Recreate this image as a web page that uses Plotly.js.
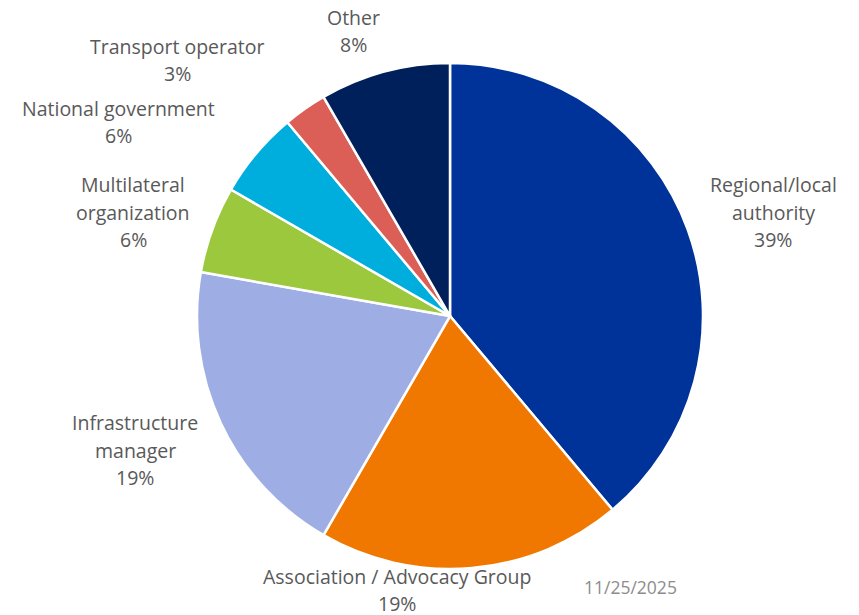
<!DOCTYPE html>
<html>
<head>
<meta charset="utf-8">
<script src="https://cdn.plot.ly/plotly-3.0.1.min.js"></script>
<style>html,body{margin:0;padding:0;background:#fff;}#chart{width:859px;height:615px;}</style>
</head>
<body>
<div id="chart"></div>
<script>
// Data (counts; shares shown rounded)
var categories = ["Regional/local authority", "Association / Advocacy Group", "Infrastructure manager", "Multilateral organization", "National government", "Transport operator", "Other"];
var labelLines = [["Regional/local", "authority"], ["Association / Advocacy Group"], ["Infrastructure", "manager"], ["Multilateral", "organization"], ["National government"], ["Transport operator"], ["Other"]];
var values = [14, 7, 7, 2, 2, 1, 3];
var colors = ["#003399", "#F07800", "#9EAEE5", "#9BC83C", "#00AEDD", "#DB5F57", "#00205B"];
var dateLabel = "11/25/2025";

var W = 859, H = 615;
// label block centres (pixels) for the outside labels
var labelPos = [[773, 212], [397, 590], [135, 450], [133, 212], [119, 122], [177, 60], [353, 31]];
var lineGap = 27;

var total = values.reduce(function(a, b){ return a + b; }, 0);
var annotations = [];
categories.forEach(function(c, i){
  var lines = labelLines[i].concat([Math.round(values[i] / total * 100) + "%"]);
  var n = lines.length;
  lines.forEach(function(t, j){
    var py = labelPos[i][1] + (j - (n - 1) / 2) * lineGap;
    annotations.push({
      xref: "paper", yref: "paper", x: labelPos[i][0] / W, y: 1 - py / H,
      xanchor: "center", yanchor: "middle", showarrow: false, text: t,
      font: {family: "Open Sans", size: 19.5, color: "#595959"}
    });
  });
});
annotations.push({
  xref: "paper", yref: "paper", x: 630 / W, y: 1 - 587 / H,
  xanchor: "center", yanchor: "middle", showarrow: false, text: dateLabel,
  font: {family: "Open Sans", size: 17.5, color: "#8C8C8C"}
});

var trace = {
  type: "pie",
  labels: categories,
  values: values,
  sort: false,
  direction: "clockwise",
  rotation: 0,
  textinfo: "none",
  hoverinfo: "label+percent",
  marker: {colors: colors, line: {color: "#ffffff", width: 2.5}},
  domain: {x: [196 / W, 704 / W], y: [1 - 569 / H, 1 - 63 / H]},
  showlegend: false
};

var layout = {
  width: W, height: H,
  margin: {l: 0, r: 0, t: 0, b: 0},
  paper_bgcolor: "#ffffff",
  font: {family: "Open Sans", color: "#595959"},
  showlegend: false,
  annotations: annotations
};

Plotly.newPlot("chart", [trace], layout, {displayModeBar: false, staticPlot: true});
</script>
</body>
</html>
